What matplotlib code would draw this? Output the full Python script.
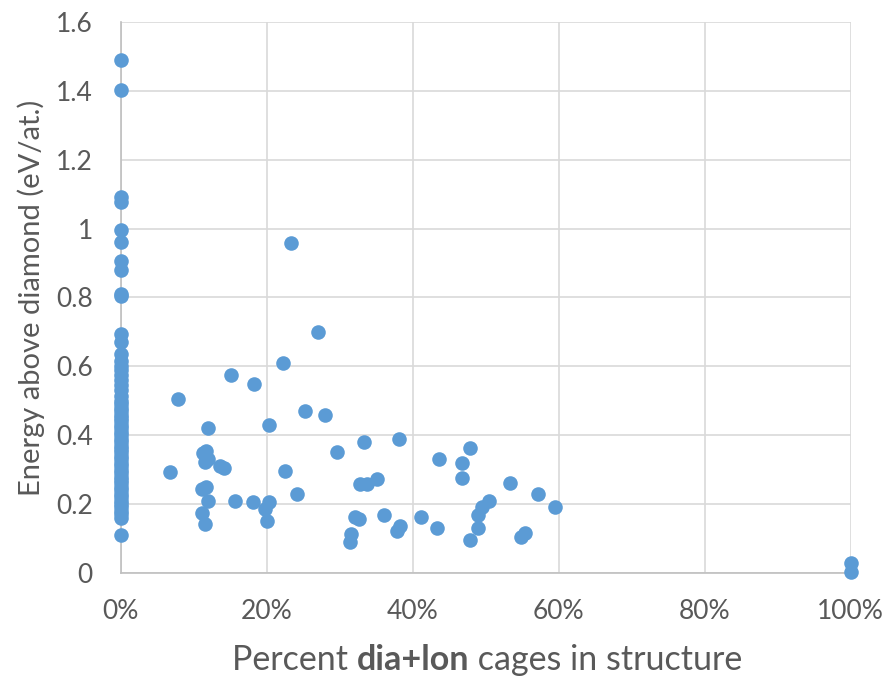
import matplotlib
matplotlib.use("Agg")
from matplotlib import pyplot as plt
from matplotlib.ticker import PercentFormatter, FuncFormatter

plt.rcParams['font.family'] = ['Lato', 'DejaVu Sans']

# structures with no dia/lon cages (x = 0)
zero_energy = [1.491, 1.403, 1.093, 1.076, 0.996, 0.960, 0.907, 0.880, 0.811, 0.805,
               0.695, 0.670, 0.637, 0.615, 0.600, 0.590, 0.575, 0.560, 0.545, 0.530,
               0.515, 0.500, 0.490, 0.480, 0.470, 0.460, 0.450, 0.440, 0.430, 0.420,
               0.410, 0.400, 0.390, 0.380, 0.370, 0.360, 0.350, 0.340, 0.330, 0.320,
               0.310, 0.300, 0.290, 0.280, 0.270, 0.260, 0.250, 0.240, 0.230, 0.220,
               0.210, 0.200, 0.190, 0.180, 0.170, 0.160, 0.110]

# structures with some dia+lon cages
frac = [0.078, 0.119, 0.151, 0.183, 0.223, 0.203, 0.068, 0.113, 0.117, 0.115,
        0.120, 0.136, 0.141, 0.225, 0.111, 0.117, 0.119, 0.157, 0.181, 0.203,
        0.198, 0.111, 0.200, 0.115, 0.234, 0.271, 0.252, 0.280, 0.334, 0.382,
        0.296, 0.242, 0.328, 0.337, 0.351, 0.436, 0.478, 0.468, 0.468, 0.534,
        0.572, 0.595, 0.505, 0.495, 0.490, 0.490, 0.479, 0.554, 0.549, 0.321,
        0.327, 0.361, 0.383, 0.379, 0.316, 0.314, 0.411, 0.433, 1.000, 1.000]
energy = [0.506, 0.422, 0.574, 0.548, 0.610, 0.429, 0.293, 0.349, 0.355, 0.321,
          0.332, 0.311, 0.306, 0.296, 0.243, 0.250, 0.210, 0.210, 0.205, 0.205,
          0.185, 0.175, 0.151, 0.141, 0.957, 0.701, 0.470, 0.458, 0.381, 0.389,
          0.352, 0.229, 0.257, 0.258, 0.274, 0.330, 0.363, 0.320, 0.276, 0.260,
          0.228, 0.190, 0.209, 0.192, 0.168, 0.130, 0.096, 0.115, 0.105, 0.161,
          0.157, 0.168, 0.136, 0.123, 0.112, 0.091, 0.163, 0.130, 0.028, 0.004]

xs = [0.0] * len(zero_energy) + frac
ys = zero_energy + energy

grey = '#595959'
fig = plt.figure(figsize=(8.87, 6.78), dpi=100)
ax = fig.add_axes([0.136, 0.155, 0.823, 0.8125])

ax.scatter(xs, ys, s=110, color='#5B9BD5', zorder=3, clip_on=False, linewidths=0)

ax.set_xlim(0, 1)
ax.set_ylim(0, 1.6)
ax.set_xticks([0, 0.2, 0.4, 0.6, 0.8, 1.0])
ax.set_yticks([0, 0.2, 0.4, 0.6, 0.8, 1.0, 1.2, 1.4, 1.6])
ax.xaxis.set_major_formatter(PercentFormatter(1.0, decimals=0))
ax.yaxis.set_major_formatter(FuncFormatter(lambda v, p: f'{v:g}'))
ax.grid(True, color='#D9D9D9', linewidth=1.2, zorder=0)
ax.tick_params(length=0, labelsize=19, labelcolor=grey)
ax.tick_params(axis='x', pad=19)
ax.tick_params(axis='y', pad=20)
for side in ['top', 'right']:
    ax.spines[side].set_visible(False)
for side in ['left', 'bottom']:
    ax.spines[side].set_color('#BFBFBF')
    ax.spines[side].set_linewidth(1.2)
ax.set_axisbelow(True)

ax.set_ylabel('Energy above diamond (eV/at.)', fontsize=21, color=grey)
ax.yaxis.set_label_coords(-0.104, 0.5)

# x label with the bold part
t1 = fig.text(0.2615, 0.003, 'Percent ', fontsize=24.5, color=grey, va='bottom')
t2 = ax.annotate('dia+lon', xy=(1, 0), xycoords=t1, va='bottom', fontsize=24.5,
                 color=grey, fontweight='bold')
ax.annotate(' cages in structure', xy=(1, 0), xycoords=t2, va='bottom',
            fontsize=24.5, color=grey)

fig.savefig('out.png', dpi=100)
